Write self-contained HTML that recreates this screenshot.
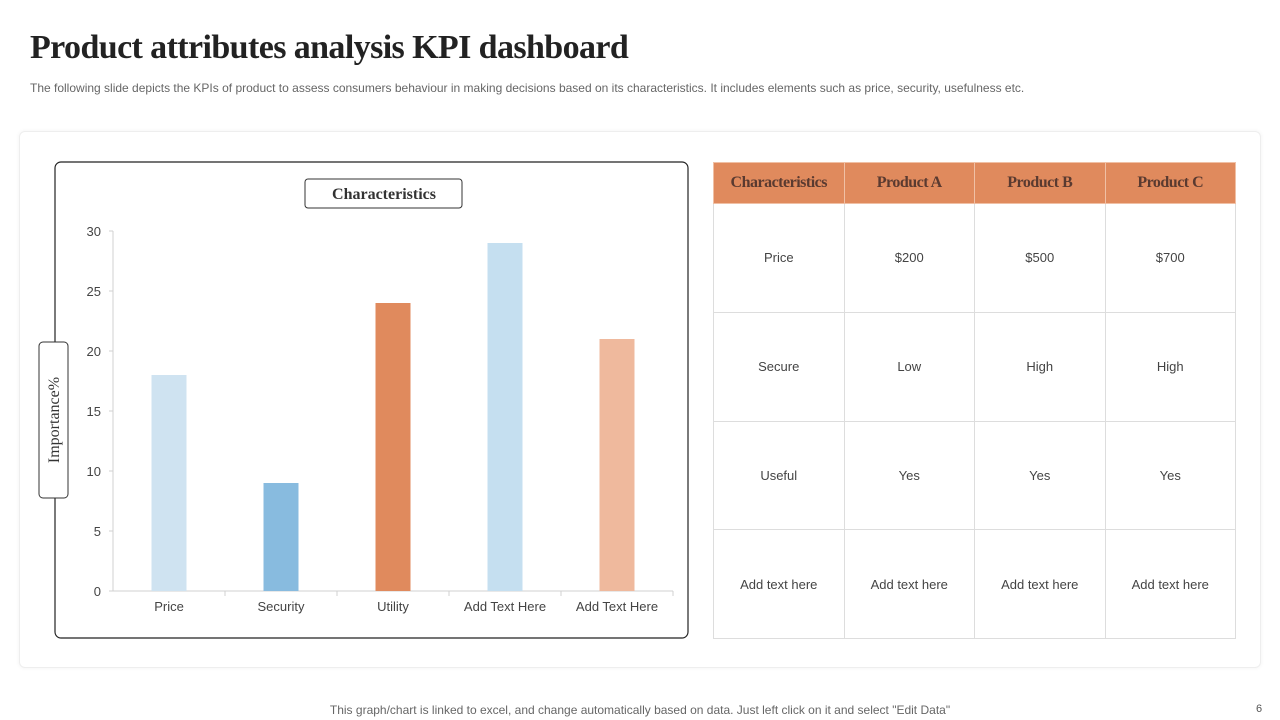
<!DOCTYPE html>
<html><head><meta charset="utf-8"><style>
*{margin:0;padding:0;box-sizing:border-box}
body{width:1280px;height:720px;background:#fff;position:relative;overflow:hidden;font-family:"Liberation Sans",sans-serif;color:#444}
.abs{position:absolute}
h1{position:absolute;left:30px;top:29px;font-family:"Liberation Serif",serif;font-size:34px;font-weight:bold;color:#222;letter-spacing:-0.6px}
.sub{left:30px;top:81px;font-size:12px;color:#666;white-space:nowrap}
.card{left:19px;top:131px;width:1242px;height:537px;border:1px solid #eee;border-radius:6px;box-shadow:0 0 4px rgba(0,0,0,0.06)}
table{position:absolute;left:713px;top:162px;width:523px;height:477px;border-collapse:collapse;table-layout:fixed}
th{background:#e08a5d;color:#5a3a30;font-family:"Liberation Serif",serif;font-size:16px;height:41px;border:1px solid #f0c0a5;font-weight:bold;letter-spacing:-0.5px}
td{border:1px solid #ddd;text-align:center;font-size:13px;color:#444}
.foot{left:0;width:1280px;text-align:center;top:703px;font-size:12px;color:#666}
</style></head><body>
<h1>Product attributes analysis KPI dashboard</h1>
<div class="abs sub">The following slide depicts the KPIs of product to assess consumers behaviour in making decisions based on its characteristics. It includes elements such as price, security, usefulness etc.</div>
<div class="abs card"></div>
<svg class="abs" style="left:0;top:0" width="1280" height="720">
<rect x="55" y="162" width="633" height="476" rx="6" fill="#fff" stroke="#222" stroke-width="1.2"/>
<g id="plot"></g>
<rect x="305" y="179" width="157" height="29" rx="3" fill="#fff" stroke="#333"/>
<text x="384" y="199" text-anchor="middle" font-family="Liberation Serif,serif" font-weight="bold" font-size="16" fill="#333">Characteristics</text>
<rect x="39" y="342" width="29" height="156" rx="4" fill="#fff" stroke="#333"/>
<text transform="translate(59,420) rotate(-90)" text-anchor="middle" font-family="Liberation Serif,serif" font-size="16" fill="#333">Importance%</text>
</svg>
<table>
<tr><th>Characteristics</th><th>Product A</th><th>Product B</th><th>Product C</th></tr>
<tr><td>Price</td><td>$200</td><td>$500</td><td>$700</td></tr>
<tr><td>Secure</td><td>Low</td><td>High</td><td>High</td></tr>
<tr><td>Useful</td><td>Yes</td><td>Yes</td><td>Yes</td></tr>
<tr><td>Add text here</td><td>Add text here</td><td>Add text here</td><td>Add text here</td></tr>
</table>
<div class="abs foot">This graph/chart is linked to excel, and change automatically based on data. Just left click on it and select "Edit Data"</div>
<div class="abs" style="left:1256px;top:703px;font-size:11px;color:#555">6</div>
<script>
const categories=["Price","Security","Utility","Add Text Here","Add Text Here"];
const values=[18,9,24,29,21];
const colors=["#cfe3f1","#88bbdf","#e08a5d","#c5dff0","#efb99d"];
const yTicks=[0,5,10,15,20,25,30];
const NS="http://www.w3.org/2000/svg";
const g=document.getElementById("plot");
const x0=113,x1=673,yTop=231,yBot=591,yMax=30;
const y=v=>yBot-(v/yMax)*(yBot-yTop);
const bw=(x1-x0)/categories.length;
function mk(t,a){const e=document.createElementNS(NS,t);for(const k in a)e.setAttribute(k,a[k]);g.appendChild(e);return e;}
const ax=mk("line",{x1:x0,y1:yTop,x2:x0,y2:yBot,stroke:"#d0d0d0"});


const bx=mk("line",{x1:x0,y1:yBot,x2:x1,y2:yBot,stroke:"#d0d0d0"});


yTicks.forEach(t=>{
 mk("line",{x1:x0-4,y1:y(t),x2:x0,y2:y(t),stroke:"#d0d0d0"});
 const tx=mk("text",{x:101,y:y(t)+5,"text-anchor":"end","font-size":13,fill:"#444"});
 tx.textContent=t;
 
 
});
categories.forEach((c,i)=>{
 const cx=x0+bw*(i+0.5);
 mk("line",{x1:x0+bw*(i+1),y1:yBot,x2:x0+bw*(i+1),y2:yBot+5,stroke:"#d0d0d0"});
 const r=mk("rect",{x:cx-17.5,y:y(values[i]),width:35,height:yBot-y(values[i]),fill:colors[i]});
 
 
 const tx=mk("text",{x:cx,y:611,"text-anchor":"middle","font-size":13,fill:"#444"});
 tx.textContent=c;
 
 
});
</script>
</body></html>
